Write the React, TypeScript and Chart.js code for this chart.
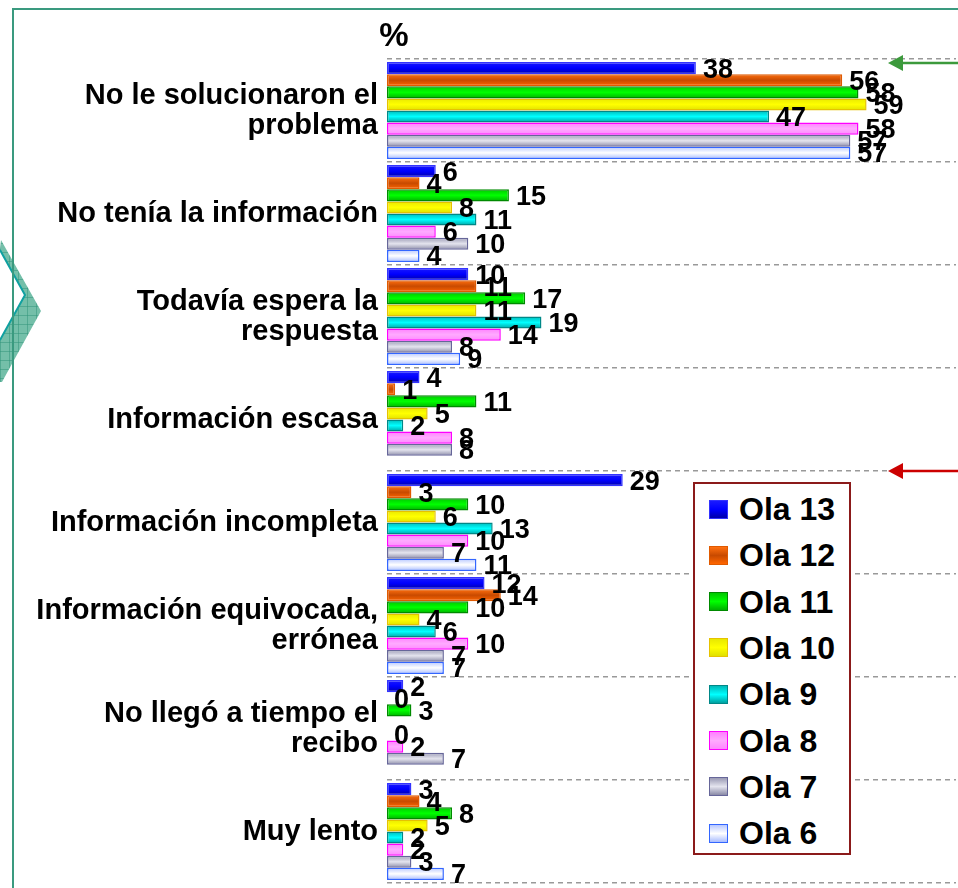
import React, { useEffect, useRef } from 'react';
import { Chart, registerables } from 'chart.js';

Chart.register(...registerables);

// ---------- DATA ----------
const categories: (string | string[])[] = [
  ['No le solucionaron el', 'problema'],
  'No tenía la información',
  ['Todavía espera la', 'respuesta'],
  'Información escasa',
  'Información incompleta',
  ['Información equivocada,', 'errónea'],
  ['No llegó a tiempo el', 'recibo'],
  'Muy lento',
];

const seriesNames = ['Ola 13', 'Ola 12', 'Ola 11', 'Ola 10', 'Ola 9', 'Ola 8', 'Ola 7', 'Ola 6'];

const ola13 = [38, 6, 10, 4, 29, 12, 2, 3];
const ola12 = [56, 4, 11, 1, 3, 14, 0, 4];
const ola11 = [58, 15, 17, 11, 10, 10, 3, 8];
const ola10 = [59, 8, 11, 5, 6, 4, null, 5];
const ola9 = [47, 11, 19, 2, 13, 6, 0, 2];
const ola8 = [58, 6, 14, 8, 10, 10, 2, 2];
const ola7 = [57, 10, 8, 8, 7, 7, 7, 3];
const ola6 = [57, 4, 9, null, 11, 7, null, 7];

const seriesValues = [ola13, ola12, ola11, ola10, ola9, ola8, ola7, ola6];

const xMin = 0;
const xMax = 70;
const axisUnit = '%';

// ---------- STYLES ----------
const gradientStops: string[][] = [
  ['#1a1aff', '#0000ff', '#0000a8'],
  ['#ff7010', '#c84a00', '#ff6600'],
  ['#00c800', '#00ff00', '#00b000'],
  ['#e8e800', '#ffff00', '#e0e000'],
  ['#00b8b8', '#00ffff', '#00a0a0'],
  ['#ff80ff', '#ffaaff', '#ff88ff'],
  ['#9a9ab4', '#e4e4ee', '#8a8aa6'],
  ['#b8c8ff', '#ffffff', '#a8bcff'],
];
const borderColors = ['#3333ff', '#e05a00', '#008a00', '#e6c200', '#008888', '#ff00ff', '#666699', '#3366ff'];

const CAT_PCT = 0.94;
const FONT = '"Liberation Sans", Arial, Helvetica, sans-serif';

function makeBg(di: number) {
  const stops = gradientStops[di];
  return (ctx: any) => {
    const chart = ctx.chart;
    const y = chart.scales && chart.scales.y;
    if (!y || ctx.type !== 'data' || !chart.chartArea) return stops[1];
    const nCat = categories.length;
    const catH = (y.bottom - y.top) / nCat;
    const center = y.getPixelForValue(ctx.dataIndex);
    const nDs = chart.data.datasets.length;
    const barH = (catH * CAT_PCT) / nDs;
    const top = center - (catH * CAT_PCT) / 2 + di * barH;
    if (!isFinite(top)) return stops[1];
    const g = chart.ctx.createLinearGradient(0, top, 0, top + barH);
    g.addColorStop(0, stops[0]);
    g.addColorStop(0.5, stops[1]);
    g.addColorStop(1, stops[2]);
    return g;
  };
}

const valueLabels = {
  id: 'valueLabels',
  afterDatasetsDraw(chart: any) {
    const ctx = chart.ctx;
    ctx.save();
    ctx.font = `bold 27px ${FONT}`;
    ctx.fillStyle = '#000';
    ctx.textBaseline = 'middle';
    ctx.textAlign = 'left';
    chart.data.datasets.forEach((ds: any, di: number) => {
      const meta = chart.getDatasetMeta(di);
      meta.data.forEach((bar: any, i: number) => {
        const v = ds.data[i];
        if (v === null || v === undefined) return;
        ctx.fillText(String(v), bar.x + 7, bar.y + 2);
      });
    });
    ctx.restore();
  },
};

const unitLabel = {
  id: 'unitLabel',
  afterDraw(chart: any) {
    const ctx = chart.ctx;
    ctx.save();
    ctx.font = `bold 33px ${FONT}`;
    ctx.fillStyle = '#000';
    ctx.textAlign = 'center';
    ctx.textBaseline = 'middle';
    ctx.fillText(axisUnit, chart.chartArea.left + 7, 37);
    ctx.restore();
  },
};

export default function App() {
  const canvasRef = useRef<HTMLCanvasElement | null>(null);

  useEffect(() => {
    document.body.style.margin = '0';
    document.body.style.overflow = 'hidden';
    const canvas = canvasRef.current;
    if (!canvas) return;
    const chart = new Chart(canvas, {
      type: 'bar',
      data: {
        labels: categories as any,
        datasets: seriesValues.map((vals, di) => ({
          label: seriesNames[di],
          data: vals as any,
          backgroundColor: makeBg(di) as any,
          borderColor: borderColors[di],
          borderWidth: 1.5,
          borderSkipped: false,
          categoryPercentage: CAT_PCT,
          barPercentage: 1,
        })),
      },
      options: {
        indexAxis: 'y',
        animation: false,
        responsive: false,
        devicePixelRatio: 1,
        layout: { padding: { left: 0, top: 59, right: 2, bottom: 5 } },
        plugins: {
          legend: { display: false },
          tooltip: { enabled: false },
          title: { display: false },
        },
        scales: {
          x: {
            display: false,
            min: xMin,
            max: xMax,
            grid: { display: false },
          },
          y: {
            afterFit: (s: any) => {
              s.width = 387;
              s.paddingTop = 0;
              s.paddingBottom = 0;
            },
            grid: {
              color: '#999999',
              lineWidth: 1.5,
              drawTicks: false,
              offset: true,
            },
            border: { display: false, dash: [5, 4] },
            ticks: {
              color: '#000',
              padding: 9,
              font: { family: FONT, size: 29, weight: 'bold', lineHeight: 30 / 29 },
            },
          },
        },
      },
      plugins: [valueLabels, unitLabel],
    });
    return () => chart.destroy();
  }, []);

  const legendTop = 482;
  const rowH = 46.3;

  return (
    <div style={{ position: 'relative', width: 958, height: 888, overflow: 'hidden', background: '#fff' }}>
      <canvas ref={canvasRef} width={958} height={888} style={{ position: 'absolute', left: 0, top: 0, width: 958, height: 888 }} />
      <svg width={958} height={888} style={{ position: 'absolute', left: 0, top: 0, pointerEvents: 'none' }}>
        <defs>
          <pattern id="hatch" width="9" height="9" patternUnits="userSpaceOnUse">
            <rect width="9" height="9" fill="#74bfa9" />
            <path d="M0 0 H9 M0 0 V9" stroke="#2f9479" strokeWidth="1" />
          </pattern>
        </defs>
        <polygon points="1,240 41,311 2,382 0,382 0,340 25,295 0,250" fill="url(#hatch)" />
        <polyline points="0,250 25,295 0,340" fill="none" stroke="#10a0a0" strokeWidth="2" />
        <polyline points="13,888 13,9 958,9" fill="none" stroke="#3a9a7f" strokeWidth="2" />
        <line x1="958" y1="63" x2="900" y2="63" stroke="#3c9a3c" strokeWidth="2.5" />
        <polygon points="888,63 903,55 903,71" fill="#3c9a3c" />
        <line x1="958" y1="471" x2="900" y2="471" stroke="#cc0000" strokeWidth="2.5" />
        <polygon points="888,471 903,463 903,479" fill="#cc0000" />
      </svg>
      <div
        style={{
          position: 'absolute',
          left: 693,
          top: legendTop,
          width: 154,
          height: 369,
          border: '2px solid #8b1a1a',
          background: '#fff',
        }}
      >
        {seriesNames.map((name, i) => {
          const st = gradientStops[i];
          return (
            <div
              key={name}
              style={{
                position: 'absolute',
                left: 14,
                top: 8 + i * rowH,
                height: 34,
                display: 'flex',
                alignItems: 'center',
              }}
            >
              <div
                style={{
                  width: 17,
                  height: 17,
                  border: `1.5px solid ${borderColors[i]}`,
                  background: `linear-gradient(to bottom, ${st[0]}, ${st[1]}, ${st[2]})`,
                  marginRight: 11,
                }}
              />
              <span style={{ fontFamily: FONT, fontWeight: 'bold', fontSize: 32, color: '#000', lineHeight: '34px' }}>
                {name}
              </span>
            </div>
          );
        })}
      </div>
    </div>
  );
}
